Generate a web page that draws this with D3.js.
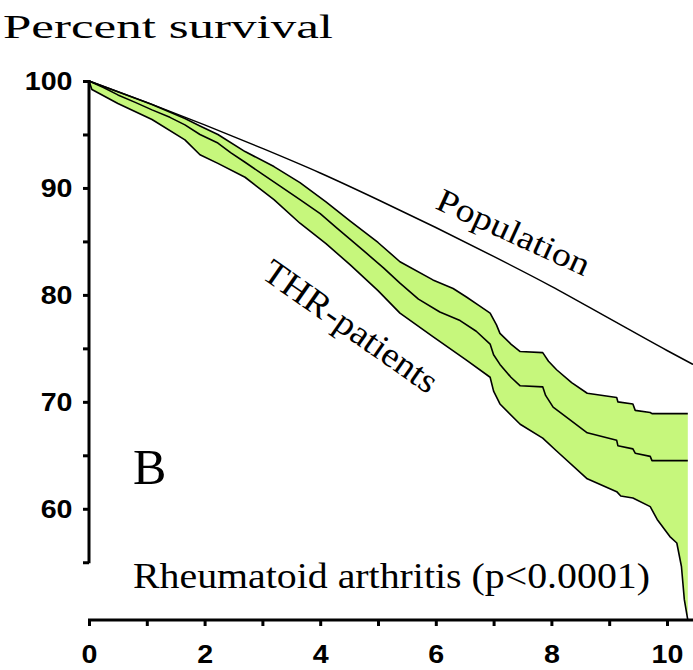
<!DOCTYPE html>
<html>
<head>
<meta charset="utf-8">
<script src="https://cdn.jsdelivr.net/npm/d3@7"></script>
<style>
  body { margin: 0; background: #fff; }
  svg { display: block; }
</style>
</head>
<body>
<div id="chart"></div>
<script>
// data: [years, percent survival]
var population = [[0,100],[1,98.0],[2,95.9],[3,93.7],[4,91.4],[5,88.9],[6,86.3],
  [7,83.6],[8,80.8],[9,77.8],[10,74.8],[10.45,73.5]];

var thrMid = [[0,100],[0.25,99.4],[0.5,98.7],[0.8,98.0],[1.09,97.3],[1.4,96.6],[1.66,95.9],
  [1.92,95.0],[2.23,94.2],[2.45,93.3],[2.7,92.4],[3.0,91.3],[3.3,90.2],[3.65,88.9],[4.0,87.6],
  [4.3,86.2],[4.52,85.2],[4.8,83.9],[5.1,82.5],[5.38,81.1],[5.7,79.6],[6.07,78.4],[6.42,77.6],
  [6.7,76.6],[6.94,75.4],[7.0,74.4],[7.11,73.5],[7.3,72.3],[7.46,71.5],[7.85,71.4],[7.9,70.6],
  [8.03,69.5],[8.3,68.4],[8.62,67.1],[9.13,66.4],[9.15,65.9],[9.41,65.6],[9.45,65.2],
  [9.71,64.9],[9.74,64.5],[10.36,64.5]];

var thrUpper = [[0,100],[0.5,99.0],[1.09,97.8],[1.66,96.5],[1.92,95.8],[2.23,95.0],[2.7,93.4],
  [3.2,92.0],[3.65,90.5],[4.1,88.7],[4.52,86.9],[5.0,84.9],[5.38,83.1],[5.95,81.4],[6.3,80.6],
  [6.53,79.8],[6.75,79.0],[6.94,78.3],[7.05,77.2],[7.11,76.4],[7.3,75.4],[7.46,74.7],[7.85,74.6],
  [7.95,73.8],[8.09,73.0],[8.35,71.8],[8.62,70.8],[9.13,70.4],[9.15,70.0],[9.41,69.8],
  [9.45,69.2],[9.71,69.0],[9.74,68.9],[10.36,68.9]];

var thrLower = [[0,100],[0.05,99.2],[0.5,97.9],[1.09,96.4],[1.66,94.5],[1.92,93.1],[2.23,92.3],
  [2.7,91.0],[3.2,88.9],[3.65,86.7],[4.1,84.8],[4.52,82.8],[5.0,80.4],[5.38,78.3],[5.95,76.1],
  [6.53,73.9],[6.94,72.3],[7.0,71.0],[7.11,69.8],[7.46,67.9],[7.85,66.6],[8.09,65.4],[8.62,62.8],
  [9.13,61.6],[9.2,61.2],[9.41,61.0],[9.71,60.2],[9.83,59.0],[10.05,57.4],[10.17,56.8],
  [10.25,54.6],[10.3,51.5],[10.36,49.6]];

var xMajor = [0, 2, 4, 6, 8, 10];
var xMinor = [1, 3, 5, 7, 9];
var yMajor = [60, 70, 80, 90, 100];
var yMinor = [55, 65, 75, 85, 95];

var width = 693, height = 670;

var svg = d3.select("#chart").append("svg")
    .attr("width", width)
    .attr("height", height);

// set the ranges
var x = d3.scaleLinear().domain([0, 10.45]).range([89, 693]);
var y = d3.scaleLinear().domain([49.6, 100]).range([620, 81]);

var line = d3.line()
    .x(function(d) { return x(d[0]); })
    .y(function(d) { return y(d[1]); });

// confidence band: upper edge forward, lower edge back
var band = thrUpper.concat(thrLower.slice().reverse());
svg.append("path")
    .attr("d", line(band) + "Z")
    .attr("fill", "#c6f77c")
    .attr("stroke", "none");

[thrUpper, thrMid, thrLower].forEach(function(s) {
  svg.append("path")
      .attr("d", line(s))
      .attr("fill", "none")
      .attr("stroke", "#000")
      .attr("stroke-width", 1.6)
      .attr("stroke-linejoin", "round");
});

// population curve is smooth
svg.append("path")
    .attr("d", d3.line()
        .x(function(d) { return x(d[0]); })
        .y(function(d) { return y(d[1]); })
        .curve(d3.curveMonotoneX)(population))
    .attr("fill", "none")
    .attr("stroke", "#000")
    .attr("stroke-width", 1.5);

// Y axis
var yAxis = svg.append("g")
    .attr("transform", "translate(89,0)")
    .call(d3.axisLeft(y).tickValues(yMajor).tickSize(6).tickPadding(9));
yAxis.select(".domain").remove();
svg.append("g")
    .attr("transform", "translate(89,0)")
    .call(d3.axisLeft(y).tickValues(yMinor).tickSize(6).tickFormat(""))
    .select(".domain").remove();
svg.append("line")
    .attr("x1", 89).attr("x2", 89)
    .attr("y1", y(55) + 1).attr("y2", y(100) - 1)
    .attr("stroke", "#000").attr("stroke-width", 3);

// X axis
var xAxis = svg.append("g")
    .attr("transform", "translate(0,620)")
    .call(d3.axisBottom(x).tickValues(xMajor).tickSize(6).tickPadding(19));
xAxis.select(".domain").remove();
svg.append("g")
    .attr("transform", "translate(0,620)")
    .call(d3.axisBottom(x).tickValues(xMinor).tickSize(6).tickFormat(""))
    .select(".domain").remove();
svg.append("line")
    .attr("x1", x(0) - 1).attr("x2", width)
    .attr("y1", 620).attr("y2", 620)
    .attr("stroke", "#000").attr("stroke-width", 3);

svg.selectAll(".tick line").attr("stroke", "#000").attr("stroke-width", 3);
svg.selectAll(".tick text")
    .attr("fill", "#000")
    .attr("font-family", "Liberation Sans, Arial, sans-serif")
    .attr("font-weight", "bold")
    .attr("font-size", 26)
    .attr("transform", "scale(1.1,1)");

// texts
var serif = "Liberation Serif, Times New Roman, serif";

svg.append("text")
    .attr("x", 3).attr("y", 38)
    .attr("font-family", serif).attr("font-size", 34)
    .attr("textLength", 330).attr("lengthAdjust", "spacingAndGlyphs")
    .text("Percent survival");

svg.append("text")
    .attr("x", 133).attr("y", 484)
    .attr("font-family", serif).attr("font-size", 50)
    .text("B");

svg.append("text")
    .attr("x", 133).attr("y", 588)
    .attr("font-family", serif).attr("font-size", 36)
    .attr("textLength", 517).attr("lengthAdjust", "spacingAndGlyphs")
    .text("Rheumatoid arthritis (p<0.0001)");

svg.append("text")
    .attr("transform", "translate(434,208) rotate(24.5)")
    .attr("font-family", serif).attr("font-size", 33)
    .attr("textLength", 165).attr("lengthAdjust", "spacingAndGlyphs")
    .text("Population");

svg.append("text")
    .attr("transform", "translate(260,277) rotate(35)")
    .attr("font-family", serif).attr("font-size", 35)
    .attr("textLength", 205).attr("lengthAdjust", "spacingAndGlyphs")
    .text("THR-patients");
</script>
</body>
</html>
